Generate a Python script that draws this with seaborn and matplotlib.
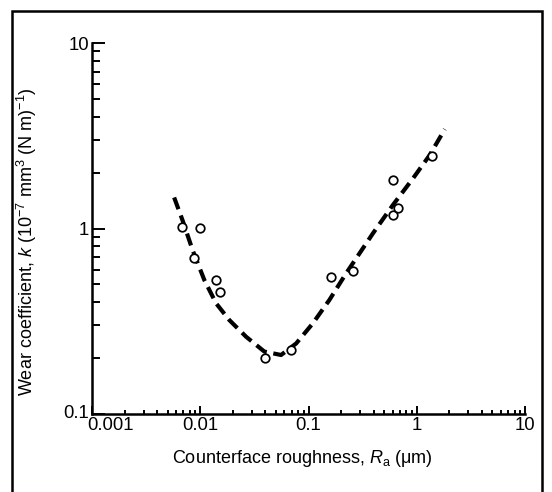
import numpy as np
import pandas as pd
import matplotlib
matplotlib.use("Agg")
import matplotlib.pyplot as plt
import matplotlib.ticker as mticker
from matplotlib.transforms import ScaledTranslation
from matplotlib.patches import Rectangle
import seaborn as sns

# Measured points: counterface roughness Ra (um) vs wear coefficient k
ra_points = [0.00677, 0.0100, 0.00867, 0.0140, 0.0151, 0.0397, 0.0686,
             0.163, 0.257, 0.602, 0.602, 0.678, 1.377]
k_points = [1.015, 1.01, 0.696, 0.526, 0.453, 0.201, 0.221,
            0.55, 0.590, 1.826, 1.18, 1.285, 2.46]

# Dashed trend curve
ra_curve = [0.00574, 0.00685, 0.00849, 0.0109, 0.0140, 0.01856, 0.0265,
            0.0391, 0.0558, 0.0769, 0.1096, 0.156, 0.223, 0.394, 0.603,
            0.925, 1.319, 1.816]
k_curve = [1.47, 1.11, 0.766, 0.528, 0.395, 0.321, 0.261,
           0.217, 0.208, 0.240, 0.308, 0.412, 0.574, 0.942, 1.34,
           1.865, 2.49, 3.43]

x_ticks = [0.001, 0.01, 0.1, 1, 10]
x_ticklabels = ["0.001", "0.01", "0.1", "1", "10"]
y_ticks = [0.1, 1, 10]
y_ticklabels = ["0.1", "1", "10"]

sns.set_theme(style="ticks")
plt.rcParams["font.family"] = ["Liberation Sans", "DejaVu Sans"]
plt.rcParams["mathtext.fontset"] = "custom"
plt.rcParams["mathtext.rm"] = "Liberation Sans"
plt.rcParams["mathtext.it"] = "Liberation Sans:italic"

fig = plt.figure(figsize=(5.52, 4.92), dpi=100)
ax = fig.add_axes([92 / 552, 1 - 414 / 492, (525 - 92) / 552, (414 - 43) / 492])

pts = pd.DataFrame({"Ra": ra_points, "k": k_points})
crv = pd.DataFrame({"Ra": ra_curve, "k": k_curve})

sns.lineplot(data=crv, x="Ra", y="k", ax=ax, color="black", linewidth=3.0,
             sort=False, zorder=2, dashes=False)
ax.lines[-1].set_dashes((3.0, 1.6))
ax.lines[-1].set_dash_capstyle("butt")
sns.scatterplot(data=pts, x="Ra", y="k", ax=ax, marker="o", s=38,
                facecolor="white", edgecolor="black", linewidth=1.25, zorder=3)

ax.set_xscale("log")
ax.set_yscale("log")
ax.set_xlim(0.001, 10)
ax.set_ylim(0.1, 10)
ax.set_xticks(x_ticks)
ax.set_xticklabels(x_ticklabels)
ax.set_yticks(y_ticks)
ax.set_yticklabels(y_ticklabels)
ax.xaxis.set_minor_locator(mticker.LogLocator(base=10, subs=np.arange(2, 10)))
ax.yaxis.set_minor_locator(mticker.LogLocator(base=10, subs=np.arange(2, 10)))
ax.xaxis.set_minor_formatter(mticker.NullFormatter())
ax.yaxis.set_minor_formatter(mticker.NullFormatter())

for side in ["top", "right"]:
    ax.spines[side].set_visible(False)
for side in ["left", "bottom"]:
    ax.spines[side].set_linewidth(1.8)
    ax.spines[side].set_color("black")

ax.tick_params(axis="both", which="both", direction="in", colors="black",
               labelsize=13.3, width=1.4)
ax.tick_params(axis="x", which="major", length=6, pad=2)
ax.tick_params(axis="x", which="minor", length=3)
ax.tick_params(axis="y", which="major", length=9.5, pad=2)
ax.tick_params(axis="y", which="minor", length=6)

# shift the first x tick label right and the lowest y label up, like the original
xl0 = ax.get_xticklabels()[0]
xl0.set_transform(xl0.get_transform() + ScaledTranslation(19 / 100, 0, fig.dpi_scale_trans))
yl0 = ax.get_yticklabels()[0]
yl0.set_transform(yl0.get_transform() + ScaledTranslation(0, 3 / 100, fig.dpi_scale_trans))

ax.set_xlabel(r"Counterface roughness, $\mathit{R}_{\mathrm{a}}$ (μm)", fontsize=13,
              color="black")
ax.set_ylabel(r"Wear coefficient, $\mathit{k}$ (10$^{-7}$ mm$^{3}$ (N m)$^{-1}$)",
              fontsize=13, color="black")
ax.yaxis.set_label_coords(-0.122, 0.4636)
ax.xaxis.set_label_coords(0.485, -0.092)

fig.patches.append(Rectangle((12 / 552, -0.05), (542 - 12) / 552, 1 - 10.5 / 492 + 0.05,
                             transform=fig.transFigure, fill=False,
                             edgecolor="black", linewidth=1.8, zorder=10))

fig.savefig("out.png", dpi=100, facecolor="white")
